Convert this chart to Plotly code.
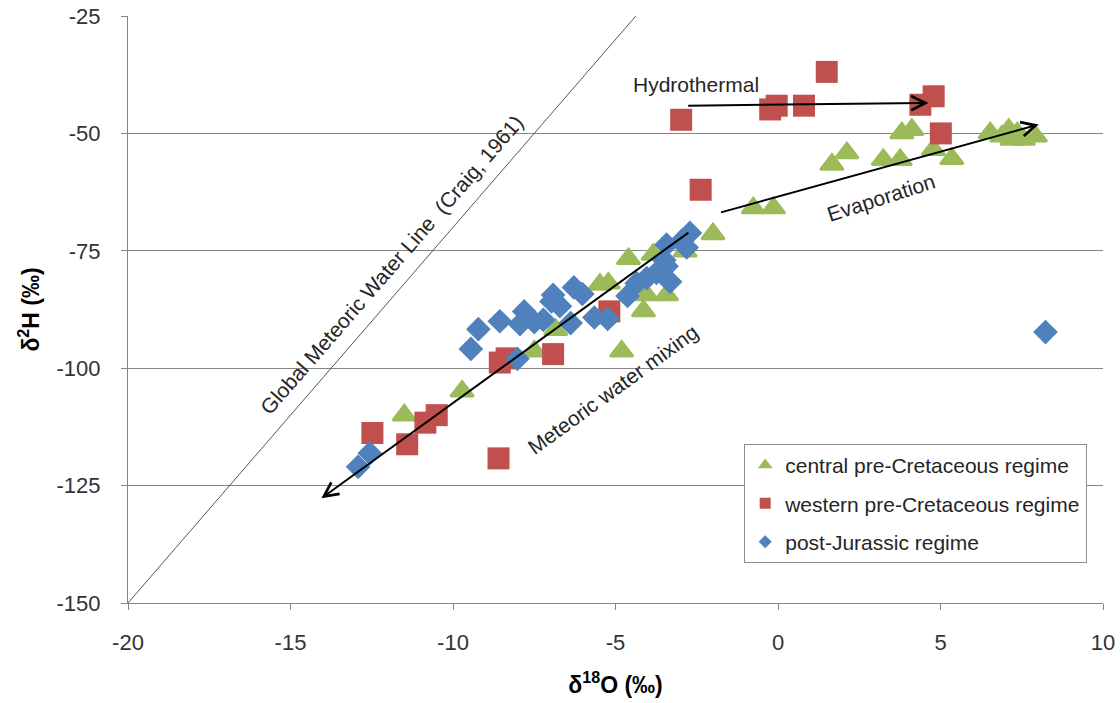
import plotly.graph_objects as go

# δ18O / δ2H measurements per regime
central_d18o = [6.53, 6.89, 7.10, 7.36, 7.55, 7.20, 7.92, 3.81, 4.12,
                1.66, 2.12, 3.24, 3.76, 4.78, 5.35,
                -0.76, -0.14, -2.00, -2.86, -3.84, -4.60,
                -5.48, -5.22, -4.14, -3.43, -4.04,
                -6.84, -7.50, -4.81, -9.72, -11.50]
central_d2h = [-49.9, -50.6, -49.2, -49.9, -51.3, -51.3, -50.6, -49.9, -49.2,
               -56.6, -54.2, -55.6, -55.6, -53.5, -55.4,
               -65.9, -65.9, -71.4, -75.1, -75.8, -76.7,
               -82.2, -81.9, -87.8, -84.4, -84.4,
               -91.8, -96.4, -96.4, -104.9, -110.0]

western_d18o = [-2.98, -0.24, -0.04, 0.80, 1.50, 4.79, 4.38, 5.01, -2.38,
                -5.19, -6.92, -8.35, -8.56, -8.60, -10.50, -10.85, -11.41, -12.48]
western_d2h = [-47.1, -44.9, -44.1, -44.1, -36.9, -42.1, -43.9, -50.0, -62.0,
               -87.9, -97.0, -97.9, -98.8, -119.2, -110.0, -111.6, -116.2, -113.8]

post_d18o = [8.23, -2.71, -2.95, -2.81, -3.43, -3.50, -3.43, -3.74, -4.04, -3.32,
             -4.35, -4.63, -6.28, -6.02, -6.92, -6.97, -6.71, -7.81, -7.94, -7.50,
             -7.22, -8.56, -9.22, -9.45, -6.38, -5.65, -5.24, -8.02, -12.56, -12.92]
post_d2h = [-92.3, -71.2, -72.8, -74.3, -73.7, -77.0, -78.3, -79.7, -80.8, -81.6,
            -81.9, -84.6, -82.8, -84.2, -84.4, -85.8, -86.8, -87.9, -90.6, -90.2,
            -89.7, -90.0, -91.7, -95.9, -90.4, -89.2, -89.5, -98.0, -118.1, -121.0]

series_names = ["central pre-Cretaceous regime",
                "western pre-Cretaceous regime",
                "post-Jurassic regime"]

# Global Meteoric Water Line: δ2H = 8·δ18O + 10
gmwl_d18o = [-20.0, -4.375]
gmwl_d2h = [8 * v + 10 for v in gmwl_d18o]

x_ticks = [-20, -15, -10, -5, 0, 5, 10]
x_tick_text = ["-20", "-15", "-10", "-5", "0", "5", "10"]
y_ticks = [-150, -125, -100, -75, -50, -25]
y_tick_text = ["-150", "-125", "-100", "-75", "-50", "-25"]

GREEN = "#9BBB59"
RED = "#C0504D"
BLUE = "#4F81BD"
FONT = "Liberation Sans, Arial, sans-serif"

fig = go.Figure()

fig.add_trace(go.Scatter(x=gmwl_d18o, y=gmwl_d2h, mode="lines",
                         line=dict(color="#555555", width=1),
                         showlegend=False, hoverinfo="skip"))

fig.add_trace(go.Scatter(x=central_d18o, y=central_d2h, mode="markers",
                         marker=dict(symbol="triangle-up", size=20, color=GREEN,
                                     line=dict(color=GREEN, width=2.5)),
                         name=series_names[0], showlegend=False))
fig.add_trace(go.Scatter(x=western_d18o, y=western_d2h, mode="markers",
                         marker=dict(symbol="square", size=22, color=RED,
                                     line=dict(width=0)),
                         name=series_names[1], showlegend=False))
fig.add_trace(go.Scatter(x=post_d18o, y=post_d2h, mode="markers",
                         marker=dict(symbol="diamond", size=19, color=BLUE,
                                     line=dict(width=0)),
                         name=series_names[2], showlegend=False))

# smaller symbols for the legend entries
for name, sym, col, sz in [(series_names[0], "triangle-up", GREEN, 13),
                           (series_names[1], "square", RED, 11),
                           (series_names[2], "diamond", BLUE, 10)]:
    fig.add_trace(go.Scatter(x=[None], y=[None], mode="markers",
                             marker=dict(symbol=sym, size=sz, color=col),
                             name=name, legendgroup=name, showlegend=True))

arrow = dict(showarrow=True, arrowhead=5, arrowsize=1.4, arrowwidth=2,
             arrowcolor="black", axref="x", ayref="y", xref="x", yref="y", text="")
fig.add_annotation(x=4.63, y=-43.5, ax=-2.81, ay=-44.1, **arrow)
fig.add_annotation(x=8.02, y=-48.1, ax=-1.80, ay=-66.9, **arrow)
fig.add_annotation(x=-14.05, y=-127.7, ax=-2.71, ay=-70.9, **arrow)

label = dict(showarrow=False, xref="x", yref="y",
             font=dict(family=FONT, size=21, color="#262626"))
fig.add_annotation(x=-2.52, y=-39.6, text="Hydrothermal", **label)
fig.add_annotation(x=3.18, y=-63.7, text="Evaporation", textangle=-18, **label)
fig.add_annotation(x=-5.08, y=-104.6, text="Meteoric water mixing", textangle=-36, **label)
fig.add_annotation(x=-11.88, y=-78.0, text="Global Meteoric Water Line  (Craig, 1961)",
                   textangle=-49, **label)

fig.update_layout(
    width=1120, height=703,
    margin=dict(l=128, r=17, t=16, b=100),
    plot_bgcolor="white", paper_bgcolor="white",
    font=dict(family=FONT, size=22, color="#333333"),
    legend=dict(x=0.632, y=0.271, xanchor="left", yanchor="top",
                bordercolor="#8c8c8c", borderwidth=1, bgcolor="white",
                font=dict(family=FONT, size=21, color="#262626"),
                traceorder="grouped", tracegroupgap=8,
                itemwidth=30),
    xaxis=dict(range=[-20, 10], tickvals=x_ticks, ticktext=x_tick_text,
               automargin=False,
               showgrid=False, zeroline=False, showline=True,
               linecolor="#868686", linewidth=1, ticks="outside",
               ticklen=6, tickcolor="#868686", ticklabelstandoff=14,
               tickfont=dict(family=FONT, size=22, color="#333333"),
               title=dict(text="<b>δ<sup>18</sup>O (‰)</b>",
                          font=dict(family=FONT, size=23, color="black"),
                          standoff=22)),
    yaxis=dict(range=[-150, -25], tickvals=y_ticks, ticktext=y_tick_text,
               automargin=False,
               showgrid=True, gridcolor="#868686", gridwidth=1,
               zeroline=False, showline=True,
               linecolor="#868686", linewidth=1, ticks="outside",
               ticklen=6, tickcolor="#868686", ticklabelstandoff=16,
               tickfont=dict(family=FONT, size=22, color="#333333"),
               title=dict(text="<b>δ<sup>2</sup>H (‰)</b>",
                          font=dict(family=FONT, size=23, color="black"),
                          standoff=10)),
)

fig.write_html("out.html")
